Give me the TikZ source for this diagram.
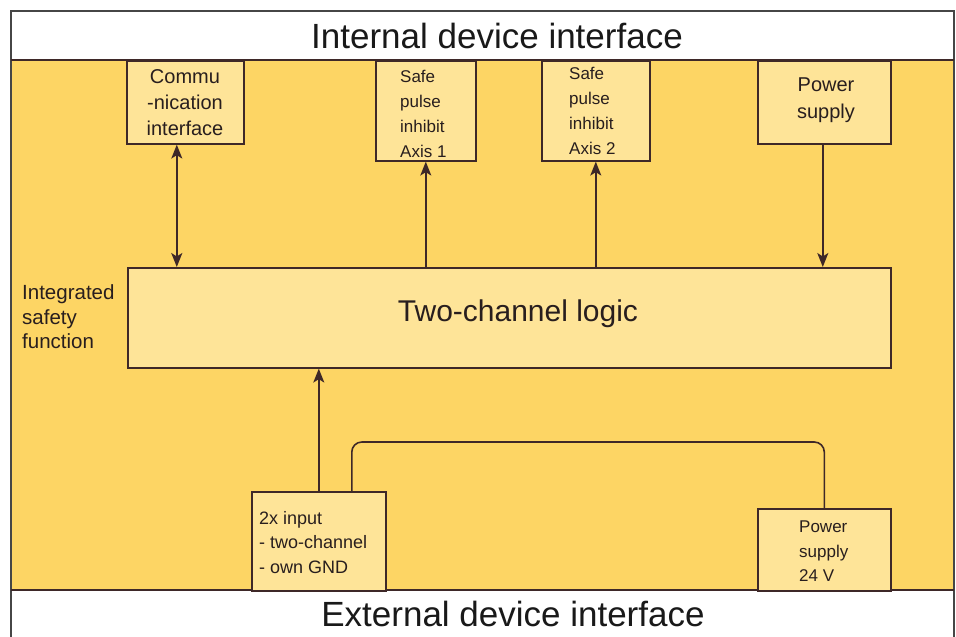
\documentclass[tikz,border=0pt]{standalone}
\usepackage{fontspec}
\setmainfont{Liberation Sans}
\usetikzlibrary{arrows.meta}
\definecolor{bgyellow}{RGB}{253,213,100}
\definecolor{boxfill}{RGB}{254,228,152}
\definecolor{edgecol}{RGB}{62,40,40}
\definecolor{framecol}{RGB}{70,70,70}
\definecolor{txtcol}{RGB}{40,30,30}
\tikzset{
  blockbox/.style={draw=edgecol, fill=boxfill, line width=1.6pt, inner sep=0pt, anchor=north west},
  conn/.style={draw=edgecol, line width=1.6pt},
  tip/.style={-{Stealth[length=14pt,width=11pt,inset=3.5pt]}},
  btip/.style={{Stealth[length=14pt,width=11pt,inset=3.5pt]}-{Stealth[length=14pt,width=11pt,inset=3.5pt]}},
  lbl/.style={text=txtcol, inner sep=0pt},
  title/.style={text=black!90, inner sep=0pt, font=\fontsize{35}{40}\selectfont}
}
\begin{document}
\begin{tikzpicture}[x=1pt,y=-1pt]
\useasboundingbox (0,0) rectangle (956,637);
\fill[white] (0,0) rectangle (956,637);
\fill[bgyellow] (11,60) rectangle (954,590);
\draw[framecol, line width=1.6pt] (11,637) -- (11,11) -- (954,11) -- (954,637);
\draw[edgecol, line width=1.6pt] (11,60) -- (954,60);
\draw[edgecol, line width=1.6pt] (11,590) -- (954,590);

% titles
\node[title] (tin) at (497,36) {Internal device interface};
\node[title] (tex) at (513,614) {External device interface};

% boxes
\node[blockbox, minimum width=117pt, minimum height=83pt] (comm) at (126,60) {};
\node[blockbox, minimum width=100pt, minimum height=100pt] (axis1) at (375,60) {};
\node[blockbox, minimum width=108pt, minimum height=100pt] (axis2) at (541,60) {};
\node[blockbox, minimum width=133pt, minimum height=83pt] (pstop) at (757,60) {};
\node[blockbox, minimum width=763pt, minimum height=100pt] (logic) at (127,267) {};
\node[blockbox, minimum width=134pt, minimum height=99pt] (inp) at (251,491) {};
\node[blockbox, minimum width=133pt, minimum height=82pt] (ps24) at (757,508) {};

% texts
\node[lbl, align=center, font=\fontsize{20}{26}\selectfont] (commt) at (185,103) {Commu\\-nication\\interface};
\node[lbl, align=left, anchor=west, font=\fontsize{17}{25}\selectfont] (axis1t) at (400,114) {Safe\\pulse\\inhibit\\Axis 1};
\node[lbl, align=left, anchor=west, font=\fontsize{17}{25}\selectfont] (axis2t) at (569,110.5) {Safe\\pulse\\inhibit\\Axis 2};
\node[lbl, align=center, font=\fontsize{20}{27}\selectfont] (pstopt) at (826,100) {Power\\supply};
\node[lbl, font=\fontsize{30}{34}\selectfont] (logict) at (518,314) {Two-channel logic};
\node[lbl, align=left, anchor=west, font=\fontsize{20.5}{24.5}\selectfont] (isf) at (22,317) {Integrated\\safety\\function};
\node[lbl, align=left, anchor=west, font=\fontsize{18}{24.5}\selectfont] (inpt) at (259,542.5) {2x input\\- two-channel\\- own GND};
\node[lbl, align=left, anchor=west, font=\fontsize{17}{24.5}\selectfont] (ps24t) at (799,551.5) {Power\\supply\\24 V};

% connectors
\draw[conn, btip] ([xshift=-8.5pt]comm.south) -- ([xshift=-8.5pt]comm.south |- logic.north);
\draw[conn, tip] (axis1.south |- logic.north) -- (axis1.south);
\draw[conn, tip] (axis2.south |- logic.north) -- (axis2.south);
\draw[conn, tip] ([xshift=-1.5pt]pstop.south) -- ([xshift=-1.5pt]pstop.south |- logic.north);
\draw[conn, tip] (inp.north) -- (inp.north |- logic.south);
\coordinate (bend) at (600,442);
\draw[conn, rounded corners=10pt] ([xshift=33pt]inp.north) |- (bend) -| (ps24.north);
\end{tikzpicture}
\end{document}
